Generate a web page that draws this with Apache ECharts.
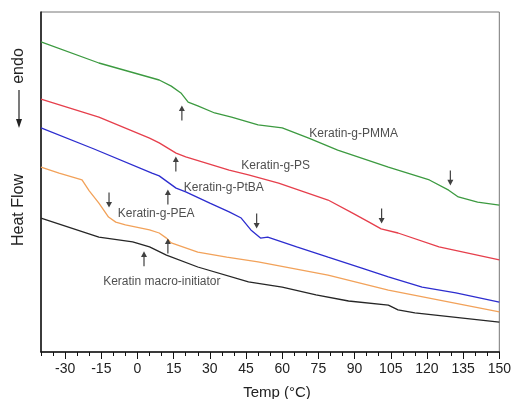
<!DOCTYPE html>
<html>
<head>
<meta charset="utf-8">
<script src="https://cdn.jsdelivr.net/npm/echarts@6/dist/echarts.min.js"></script>
<style>
  html, body { margin: 0; padding: 0; background: #fff; }
  #chart { width: 514px; height: 399px; }
</style>
</head>
<body>
<div id="chart"></div>
<script>
// DSC traces, temperature in degC, heat flow in arbitrary units (endo down)
const pmmaT = [-40, -16, 9, 14, 18, 21, 25, 32, 39, 50, 60, 71, 83, 104, 121, 129, 133, 141, 150];
const pmmaHF = [91.2, 85.0, 80.0, 78.2, 76.2, 73.5, 72.4, 70.3, 69.1, 66.8, 65.9, 62.9, 59.4, 54.4, 50.6, 47.6, 45.6, 44.1, 43.2];

const psT = [-40, -16, 5, 9, 16, 20, 38, 46, 58.5, 79, 89, 96, 101, 108, 125, 150];
const psHF = [74.4, 69.1, 62.9, 61.5, 58.5, 57.4, 53.5, 52.1, 49.7, 44.7, 40.9, 38.2, 36.2, 35.0, 30.9, 27.1];

const ptbaT = [-40, -18, 6, 9, 16, 20, 30, 38, 43, 47, 51, 54, 66, 79, 93, 104, 118, 132, 150];
const ptbaHF = [65.9, 59.7, 52.6, 51.8, 48.2, 47.1, 43.8, 41.2, 39.4, 35.9, 33.5, 33.8, 30.9, 27.9, 24.7, 22.1, 19.1, 17.4, 14.7];

const peaT = [-40, -32.5, -23, -20, -16, -12, -9, -5, 5, 9, 12, 14, 25, 37, 50, 79, 104, 150];
const peaHF = [54.4, 52.6, 50.6, 47.4, 43.8, 39.7, 38.2, 37.4, 35.9, 35.0, 33.5, 32.1, 29.4, 27.9, 26.5, 22.6, 18.2, 11.8];

const macroT = [-40, -16, -2, 5, 12, 25, 46, 60, 74, 87.5, 104, 108, 115, 150];
const macroHF = [39.4, 33.8, 32.4, 30.9, 28.5, 25.0, 20.6, 19.1, 16.8, 15.0, 13.8, 12.4, 11.5, 8.8];

// transition arrows
const arrowT = [18.4, 129.7, 15.9, 101.2, 12.6, 49.4, -11.8, 12.6, 2.7];
const arrowHF = [70.3, 51.2, 55.3, 40.0, 45.6, 38.5, 44.7, 31.2, 27.4];
const arrowDir = ["up", "down", "up", "down", "up", "down", "down", "up", "up"];

// curve labels
const labelNames = ["Keratin-g-PMMA", "Keratin-g-PS", "Keratin-g-PtBA", "Keratin-g-PEA", "Keratin macro-initiator"];
const labelT = [89.6, 57.3, 35.8, 7.7, 10.1];
const labelHF = [64.1, 54.7, 48.2, 40.6, 20.6];

const xTickLabels = [-30, -15, 0, 15, 30, 45, 60, 75, 90, 105, 120, 135, 150];

const FONT = "Liberation Sans, Arial, sans-serif";
const zip = (xs, ys) => xs.map((x, i) => [x, ys[i]]);

function curve(name, t, hf, color) {
  return {
    name,
    type: "line",
    data: zip(t, hf),
    showSymbol: false,
    lineStyle: { color, width: 1.3 },
    z: 3,
  };
}

const ARROW = "path://M2.4,0H3.6V10H6L3,16L0,10H2.4Z";

const chart = echarts.init(document.getElementById("chart"));
chart.setOption({
  animation: false,
  backgroundColor: "#fff",
  grid: {
    left: 41, right: 13, top: 12, bottom: 47,
    show: true, borderColor: "#777", borderWidth: 1,
  },
  xAxis: [
    {
      type: "value", min: -40, max: 150, interval: 5,
      axisLine: { onZero: false, lineStyle: { color: "#111", width: 1.5 } },
      axisTick: { length: 4, lineStyle: { color: "#111" } },
      axisLabel: {
        customValues: xTickLabels,
        color: "#222", fontSize: 14, fontFamily: FONT, margin: 10,
      },
      splitLine: { show: false },
    },
    {
      type: "value", min: -40, max: 150, position: "bottom",
      axisLine: { show: false },
      axisTick: { customValues: xTickLabels, length: 7, lineStyle: { color: "#111" } },
      axisLabel: { show: false },
      splitLine: { show: false },
    },
  ],
  yAxis: {
    type: "value", min: 0, max: 100,
    axisLine: { show: true, onZero: false, lineStyle: { color: "#111", width: 1.5 } },
    axisTick: { show: false },
    axisLabel: { show: false },
    splitLine: { show: false },
  },
  series: [
    curve("Keratin-g-PMMA", pmmaT, pmmaHF, "#3c9a40"),
    curve("Keratin-g-PS", psT, psHF, "#e63f4c"),
    curve("Keratin-g-PtBA", ptbaT, ptbaHF, "#2d2dcf"),
    curve("Keratin-g-PEA", peaT, peaHF, "#f2a25a"),
    curve("Keratin macro-initiator", macroT, macroHF, "#262626"),
    {
      name: "arrows",
      type: "scatter",
      symbol: ARROW,
      symbolSize: [6, 15],
      itemStyle: { color: "#111" },
      data: arrowT.map((t, i) => ({
        value: [t, arrowHF[i]],
        symbolRotate: arrowDir[i] === "up" ? 180 : 0,
      })),
      z: 4,
    },
    {
      name: "labels",
      type: "scatter",
      symbolSize: 0,
      data: labelT.map((t, i) => ({ value: [t, labelHF[i]], name: labelNames[i] })),
      label: {
        show: true, position: "inside", formatter: "{b}",
        color: "#222", fontSize: 12, fontFamily: FONT,
      },
      z: 5,
    },
  ],
  graphic: [
    {
      type: "text", x: 19, y: 66, rotation: Math.PI / 2,
      style: { text: "endo", font: "16px " + FONT, fill: "#222", align: "center", verticalAlign: "middle" },
    },
    {
      type: "line",
      shape: { x1: 19, y1: 90, x2: 19, y2: 120 },
      style: { stroke: "#222", lineWidth: 1.2 },
    },
    {
      type: "polygon",
      shape: { points: [[16, 119], [22, 119], [19, 128]] },
      style: { fill: "#222" },
    },
    {
      type: "text", x: 19, y: 210, rotation: Math.PI / 2,
      style: { text: "Heat Flow", font: "16px " + FONT, fill: "#222", align: "center", verticalAlign: "middle" },
    },
    {
      type: "text", x: 277, y: 393,
      style: { text: "Temp (°C)", font: "15px " + FONT, fill: "#222", align: "center", verticalAlign: "middle" },
    },
  ],
});
</script>
</body>
</html>
